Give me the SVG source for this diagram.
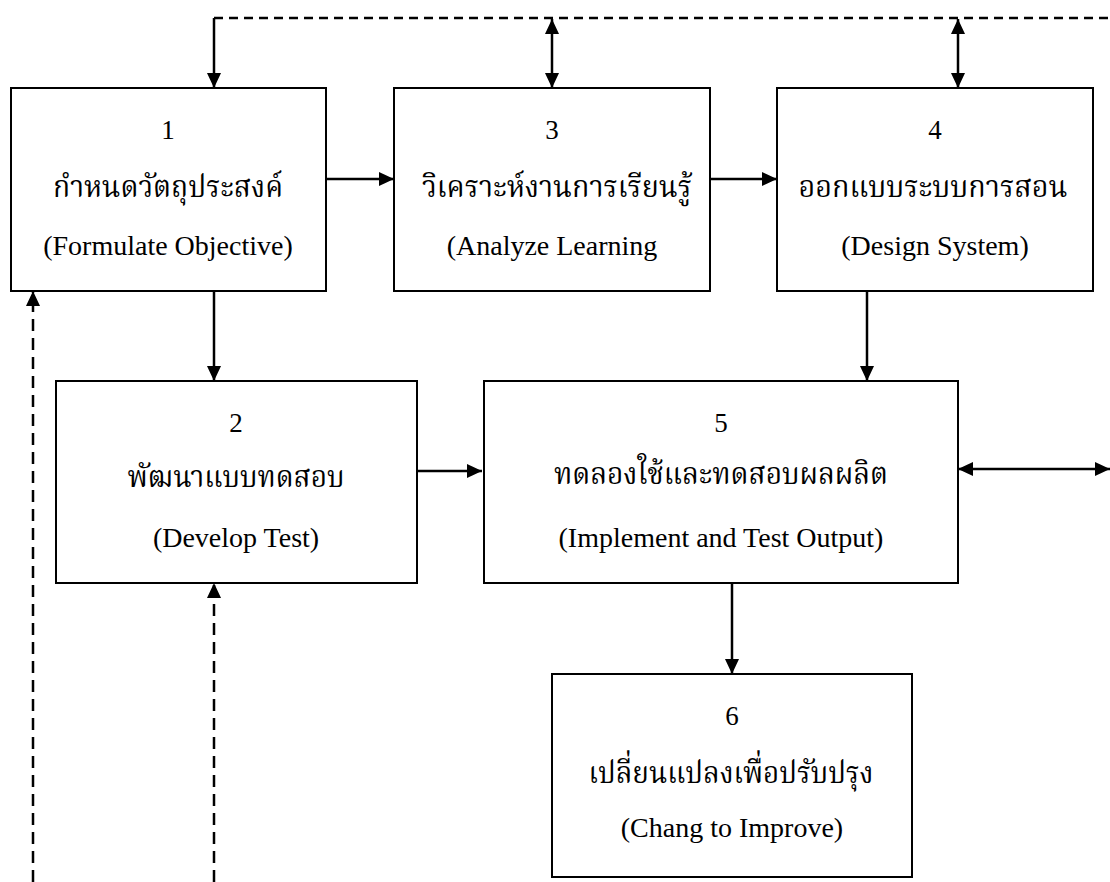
<svg xmlns="http://www.w3.org/2000/svg" width="1110" height="882" viewBox="0 0 1110 882">
  <style>
    .box { fill: #ffffff; stroke: #000000; stroke-width: 2; }
    .num { font-family: "Liberation Serif", serif; font-size: 27px; fill: #000; text-anchor: middle; }
    .th { font-family: "Liberation Serif", "Noto Serif Thai", "Noto Sans Thai", serif; font-size: 31px; fill: #000; text-anchor: middle; }
    .en { font-family: "Liberation Serif", serif; font-size: 28px; fill: #000; text-anchor: middle; }
    .solid { fill: none; stroke: #000; stroke-width: 2.5; }
    .dash { fill: none; stroke: #000; stroke-width: 2.5; stroke-dasharray: 9 6; }
    .dashv { fill: none; stroke: #000; stroke-width: 2.5; stroke-dasharray: 12 7; }
  </style>
  <defs>
    <marker id="ah" viewBox="0 0 15 14" refX="15" refY="7" markerWidth="15" markerHeight="14" markerUnits="userSpaceOnUse" orient="auto-start-reverse">
      <path d="M0,0 L15,7 L0,14 z" fill="#000"/>
    </marker>
  </defs>
  <rect width="1110" height="882" fill="#ffffff"/>

  <g id="connectors">
    <path class="dash" d="M214,18 H1110"/>
    <path class="solid" d="M214,18 V88" marker-end="url(#ah)"/>
    <path class="solid" d="M552,19 V88" marker-start="url(#ah)" marker-end="url(#ah)"/>
    <path class="solid" d="M958,19 V88" marker-start="url(#ah)" marker-end="url(#ah)"/>
    <path class="solid" d="M326,179 H394" marker-end="url(#ah)"/>
    <path class="solid" d="M710,179 H777" marker-end="url(#ah)"/>
    <path class="solid" d="M214,291 V381" marker-end="url(#ah)"/>
    <path class="solid" d="M867,291 V381" marker-end="url(#ah)"/>
    <path class="solid" d="M417,471 H482" marker-end="url(#ah)"/>
    <path class="solid" d="M958,469 H1110" marker-start="url(#ah)" marker-end="url(#ah)"/>
    <path class="solid" d="M732,583 V674" marker-end="url(#ah)"/>
    <path class="dashv" d="M33,882 V291" marker-end="url(#ah)"/>
    <path class="dashv" d="M214,882 V583" marker-end="url(#ah)"/>
  </g>

  <g id="node1">
    <rect class="box" x="11" y="88" width="315" height="203"/>
    <text class="num" x="168" y="139">1</text>
    <text class="th" x="168" y="197" textLength="230" lengthAdjust="spacingAndGlyphs">กำหนดวัตถุประสงค์</text>
    <text class="en" x="168" y="255">(Formulate Objective)</text>
  </g>
  <g id="node3">
    <rect class="box" x="394" y="88" width="316" height="203"/>
    <text class="num" x="552" y="139">3</text>
    <text class="th" x="557" y="197" textLength="270" lengthAdjust="spacingAndGlyphs">วิเคราะห์งานการเรียนรู้</text>
    <text class="en" x="552" y="255">(Analyze Learning</text>
  </g>
  <g id="node4">
    <rect class="box" x="777" y="88" width="316" height="203"/>
    <text class="num" x="935" y="139">4</text>
    <text class="th" x="933" y="197" textLength="269" lengthAdjust="spacingAndGlyphs">ออกแบบระบบการสอน</text>
    <text class="en" x="935" y="255">(Design System)</text>
  </g>
  <g id="node2">
    <rect class="box" x="56" y="381" width="361" height="202"/>
    <text class="num" x="236" y="432">2</text>
    <text class="th" x="236" y="487" textLength="217" lengthAdjust="spacingAndGlyphs">พัฒนาแบบทดสอบ</text>
    <text class="en" x="236" y="547">(Develop Test)</text>
  </g>
  <g id="node5">
    <rect class="box" x="484" y="381" width="474" height="202"/>
    <text class="num" x="721" y="432">5</text>
    <text class="th" x="721" y="484" textLength="334" lengthAdjust="spacingAndGlyphs">ทดลองใช้และทดสอบผลผลิต</text>
    <text class="en" x="721" y="547">(Implement and Test Output)</text>
  </g>
  <g id="node6">
    <rect class="box" x="552" y="674" width="360" height="203"/>
    <text class="num" x="732" y="725">6</text>
    <text class="th" x="731" y="783" textLength="285" lengthAdjust="spacingAndGlyphs">เปลี่ยนแปลงเพื่อปรับปรุง</text>
    <text class="en" x="732" y="837">(Chang to Improve)</text>
  </g>
</svg>
